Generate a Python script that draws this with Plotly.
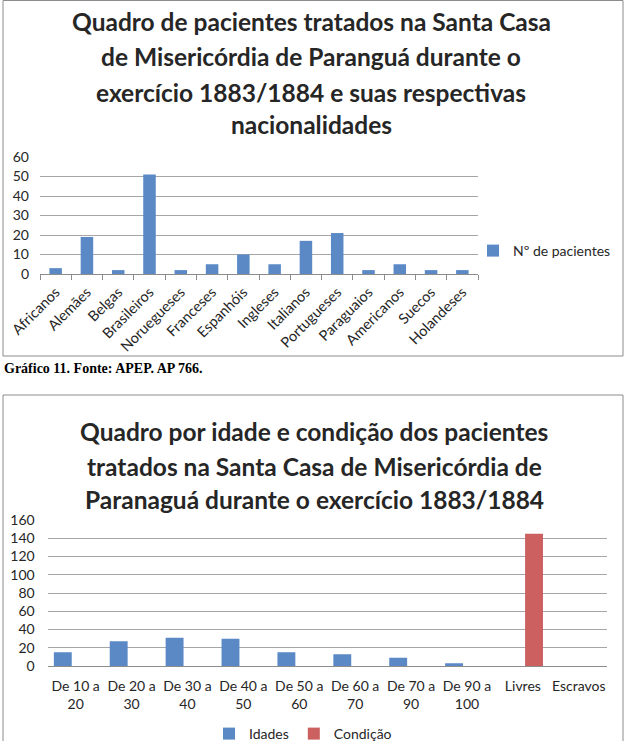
import plotly.graph_objects as go

W, H = 629, 741

# ---------------- data ----------------
nacionalidades = ["Africanos", "Alemães", "Belgas", "Brasileiros", "Noruegueses",
                  "Franceses", "Espanhóis", "Ingleses", "Italianos", "Portugueses",
                  "Paraguaios", "Americanos", "Suecos", "Holandeses"]
pacientes = [3, 19, 2, 51, 2, 5, 10, 5, 17, 21, 2, 5, 2, 2]

faixas = ["De 10 a<br>20", "De 20 a<br>30", "De 30 a<br>40", "De 40 a<br>50",
          "De 50 a<br>60", "De 60 a<br>70", "De 70 a<br>90", "De 90 a<br>100",
          "Livres", "Escravos"]
idades = [15, 27, 31, 30, 15, 13, 9, 3, None, None]
condicao = [None, None, None, None, None, None, None, None, 145, 0]

titulo1 = ["Quadro de pacientes tratados na Santa Casa",
           "de Misericórdia de Paranguá durante o",
           "exercício 1883/1884 e suas respectivas",
           "nacionalidades"]
titulo2 = ["Quadro por idade e condição dos pacientes",
           "tratados na Santa Casa de Misericórdia de",
           "Paranaguá durante o exercício 1883/1884"]
legenda = "Gráfico 11. Fonte: APEP. AP 766."

BLUE = "#5A89C6"
RED = "#CC5F5F"
GRID = "#A6A6A6"
TXT = "#262626"
FONT = "Lato"


def px(x):
    return x / W


def py(y):
    return 1 - y / H


fig = go.Figure()
fig.add_trace(go.Bar(x=nacionalidades, y=pacientes, name="Nº de pacientes",
                     marker=dict(color=BLUE, line=dict(width=0)),
                     width=0.4, xaxis="x", yaxis="y", legend="legend"))
fig.add_trace(go.Bar(x=faixas, y=idades, name="Idades",
                     marker=dict(color=BLUE, line=dict(width=0)),
                     width=0.32, offset=-0.39, xaxis="x2", yaxis="y2", legend="legend2"))
fig.add_trace(go.Bar(x=faixas, y=condicao, name="Condição",
                     marker=dict(color=RED, line=dict(width=0)),
                     width=0.32, offset=0.04, xaxis="x2", yaxis="y2", legend="legend2"))

tickfont = dict(family=FONT, size=14, color=TXT)
titlefont = dict(family=FONT, size=24.5, color=TXT, weight="bold")

annotations = []
for line, yy in zip(titulo1, [22, 57, 92, 124]):
    annotations.append(dict(text=line, x=px(311), y=py(yy),
                            xref="paper", yref="paper", xanchor="center", yanchor="middle",
                            showarrow=False, font=titlefont))
for line, yy in zip(titulo2, [432, 466, 499]):
    annotations.append(dict(text=line, x=px(314), y=py(yy),
                            xref="paper", yref="paper", xanchor="center", yanchor="middle",
                            showarrow=False, font=titlefont))
annotations.append(dict(text=legenda, x=px(2), y=py(369), xref="paper", yref="paper",
                        xanchor="left", yanchor="middle", showarrow=False,
                        font=dict(family="Liberation Serif", size=14, color="#000", weight="bold")))

shapes = [
    dict(type="rect", xref="paper", yref="paper", x0=px(3), x1=px(623), y0=py(356), y1=py(0.5),
         line=dict(color="#8C8C8C", width=1), layer="below"),
    dict(type="rect", xref="paper", yref="paper", x0=px(3), x1=px(623), y0=py(760), y1=py(395),
         line=dict(color="#8C8C8C", width=1), layer="below"),
]

fig.update_layout(
    template="none",
    width=W, height=H,
    margin=dict(l=0, r=0, t=0, b=0, autoexpand=False),
    paper_bgcolor="white", plot_bgcolor="white",
    barmode="overlay",
    font=dict(family=FONT, color=TXT),
    annotations=annotations,
    shapes=shapes,
    xaxis=dict(domain=[px(40), px(478)], anchor="y", type="category", automargin=False,
               tickangle=-45, ticks="outside", tickson="boundaries", ticklen=5,
               tickcolor="#8C8C8C", showline=True, linecolor="#8C8C8C",
               showgrid=False, tickfont=dict(family=FONT, size=14.5, color=TXT),
               ticklabelstandoff=3, fixedrange=True),
    yaxis=dict(domain=[py(274), py(157)], anchor="x", range=[0, 60], dtick=10,
               automargin=False, showgrid=True, gridcolor=GRID, zeroline=False,
               showline=False, ticks="", tickfont=tickfont, ticklabelstandoff=10,
               fixedrange=True),
    xaxis2=dict(domain=[px(47.7), px(606.7)], anchor="y2", type="category", automargin=False,
                ticks="", showline=True, linecolor="#8C8C8C", showgrid=False,
                tickfont=tickfont, ticklabelstandoff=7, fixedrange=True),
    yaxis2=dict(domain=[py(666), py(520)], anchor="x2", range=[0, 160], dtick=20,
                automargin=False, showgrid=True, gridcolor=GRID, zeroline=False,
                showline=False, ticks="", tickfont=tickfont, ticklabelstandoff=12,
                fixedrange=True),
    legend=dict(x=px(473), y=py(251), xanchor="left", yanchor="middle",
                bgcolor="rgba(0,0,0,0)", borderwidth=0,
                font=dict(family=FONT, size=14, color=TXT)),
    legend2=dict(orientation="h", x=px(209), y=py(734), xanchor="left", yanchor="middle",
                 bgcolor="rgba(0,0,0,0)", borderwidth=0,
                 font=dict(family=FONT, size=14, color=TXT)),
    showlegend=True,
)

fig.write_html(
    "out.html",
    config={"displayModeBar": False},
    post_script="document.body.style.margin='0';document.body.style.padding='0';",
)
